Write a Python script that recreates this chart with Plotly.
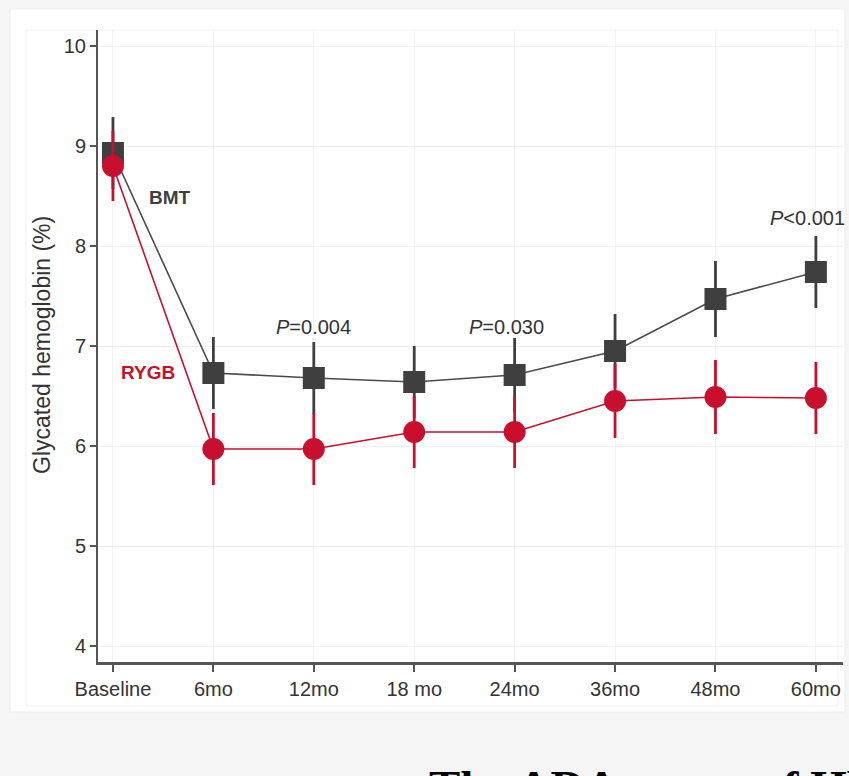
import plotly.graph_objects as go

categories = ["Baseline", "6mo", "12mo", "18 mo", "24mo", "36mo", "48mo", "60mo"]
x_pos = list(range(len(categories)))

bmt_mean = [8.93, 6.73, 6.68, 6.64, 6.71, 6.95, 7.47, 7.74]
bmt_err = [0.36, 0.36, 0.36, 0.36, 0.37, 0.37, 0.38, 0.36]
rygb_mean = [8.80, 5.97, 5.97, 6.14, 6.14, 6.45, 6.49, 6.48]
rygb_err = [0.35, 0.36, 0.36, 0.36, 0.36, 0.37, 0.37, 0.36]

y_ticks = [4, 5, 6, 7, 8, 9, 10]

W, H = 849, 776
L, R, T, B = 98, 6, 30, 114

GRAY = "#3f3f3f"
RED = "#c8102e"
TXT = "#333333"
FONT = "Liberation Sans, Arial, sans-serif"

fig = go.Figure()

fig.add_trace(go.Scatter(
    x=x_pos, y=bmt_mean, mode="lines+markers", name="BMT",
    line=dict(color="#4a4a4a", width=1.6),
    marker=dict(symbol="square", size=22, color=GRAY),
    error_y=dict(type="data", array=bmt_err, visible=True, color=GRAY, thickness=2.8, width=0),
))
fig.add_trace(go.Scatter(
    x=x_pos, y=rygb_mean, mode="lines+markers", name="RYGB",
    line=dict(color=RED, width=1.6),
    marker=dict(symbol="circle", size=22, color=RED),
    error_y=dict(type="data", array=rygb_err, visible=True, color=RED, thickness=2.8, width=0),
))

def px2paper_x(px):
    return (px - L) / (W - L - R)

def px2paper_y(py):
    return (H - B - py) / (H - T - B)

# background panels
fig.add_shape(type="rect", xref="paper", yref="paper",
              x0=px2paper_x(10), x1=px2paper_x(845), y0=px2paper_y(712), y1=px2paper_y(9),
              fillcolor="white", line=dict(color="#ededed", width=1), layer="below")
fig.add_shape(type="rect", xref="paper", yref="paper",
              x0=px2paper_x(26), x1=px2paper_x(838), y0=px2paper_y(706), y1=px2paper_y(30),
              fillcolor="rgba(0,0,0,0)", line=dict(color="#f2f2f2", width=1), layer="below")

annots = [
    dict(x=0.57, y=8.49, text="<b>BMT</b>", font=dict(size=19, color=GRAY, family=FONT)),
    dict(x=0.35, y=6.74, text="<b>RYGB</b>", font=dict(size=19, color=RED, family=FONT)),
    dict(x=2.0, y=7.19, text="<i>P</i>=0.004", font=dict(size=20, color=TXT, family=FONT)),
    dict(x=3.92, y=7.19, text="<i>P</i>=0.030", font=dict(size=20, color=TXT, family=FONT)),
    dict(x=6.92, y=8.28, text="<i>P</i><0.001", font=dict(size=20, color=TXT, family=FONT)),
]
for a in annots:
    fig.add_annotation(xref="x", yref="y", showarrow=False, xanchor="center", yanchor="middle", **a)

fig.add_annotation(xref="paper", yref="paper", x=px2paper_x(42), y=px2paper_y(345),
                   text="Glycated hemoglobin (%)", textangle=-90, showarrow=False,
                   xanchor="center", yanchor="middle",
                   font=dict(size=23, color=TXT, family=FONT))

fig.add_annotation(xref="paper", yref="paper", x=px2paper_x(427), y=px2paper_y(759),
                   text="<b>The ADA target of HbA1c</b>", showarrow=False,
                   xanchor="left", yanchor="top",
                   font=dict(size=47, color="black", family="Liberation Serif, Times New Roman, serif"))

fig.update_layout(
    width=W, height=H,
    margin=dict(l=L, r=R, t=T, b=B, pad=0),
    paper_bgcolor="#f5f5f5",
    plot_bgcolor="white",
    showlegend=False,
    font=dict(family=FONT, color=TXT, size=20),
)

fig.update_xaxes(
    range=[-0.149, 7.27], tickmode="array", tickvals=x_pos, ticktext=categories,
    showline=True, linecolor="#555555", linewidth=2.5,
    ticks="outside", ticklen=7, tickwidth=1.5, tickcolor="#555555",
    showgrid=True, gridcolor="#f3f3f3", gridwidth=1, zeroline=False,
    tickfont=dict(size=20, color=TXT, family=FONT),
)
fig.update_yaxes(
    range=[3.84, 10.16], tickmode="array", tickvals=y_ticks,
    showline=True, linecolor="#555555", linewidth=2,
    ticks="outside", ticklen=6, tickwidth=1.5, tickcolor="#555555",
    showgrid=True, gridcolor="#f0f0f0", gridwidth=1, zeroline=False,
    tickfont=dict(size=20, color=TXT, family=FONT),
)

fig.write_html(
    "out.html",
    config={"displayModeBar": False},
    post_script="document.body.style.margin='0';document.body.style.overflow='hidden';document.body.style.background='#f5f5f5';",
)
